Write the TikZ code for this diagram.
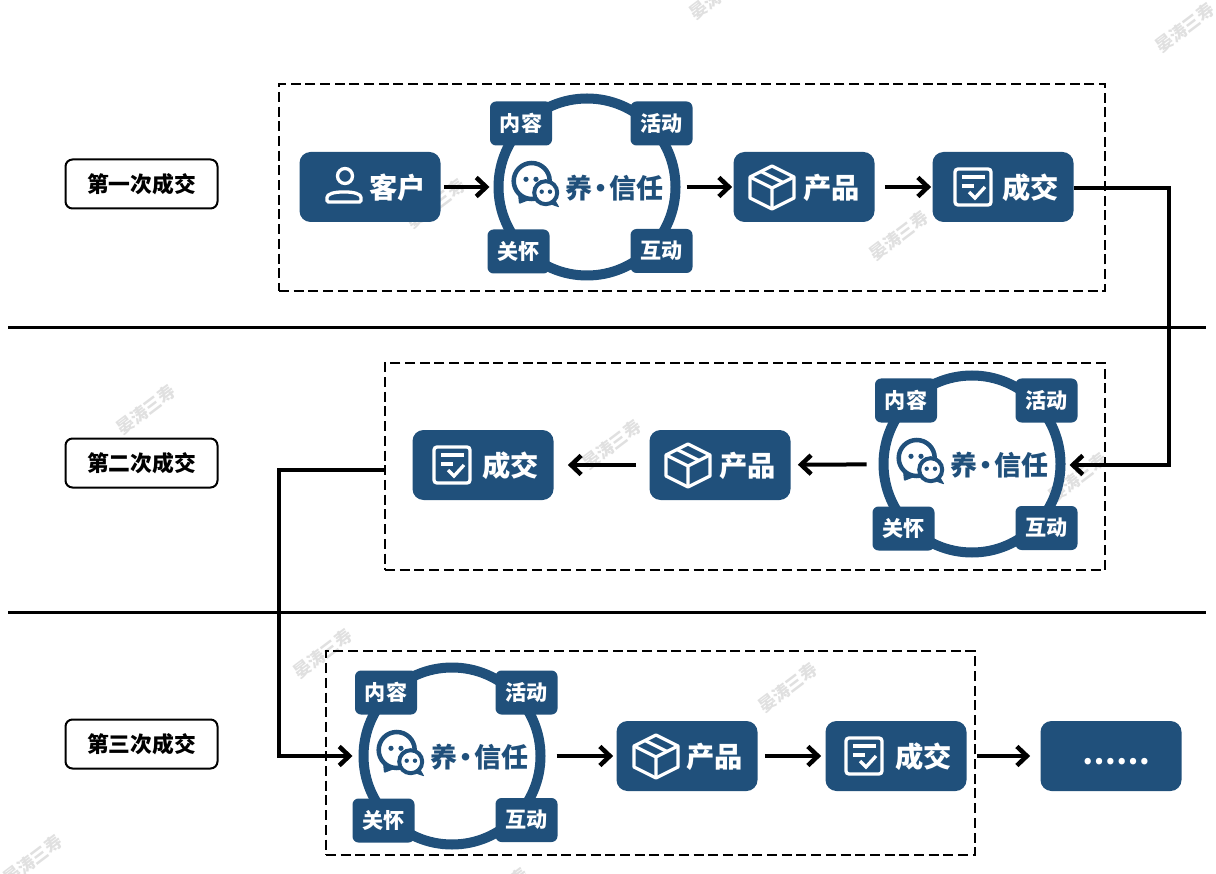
\documentclass[tikz,border=0pt]{standalone}
\usepackage{fontspec}
\setmainfont{Noto Sans CJK SC}
\usetikzlibrary{arrows.meta}
\definecolor{navy}{HTML}{20507B}
\definecolor{markgray}{HTML}{E0E0E0}
\newlength\px
\setlength\px{0.02cm}

\tikzset{
  usericon/.pic={
    \draw[iconline] (1,-11) circle (7.5);
    \draw[iconline,rounded corners=1.5\px] (-17,15) -- (17,15) -- (17,12) .. controls (17,7) and (10,5) .. (0,5) .. controls (-10,5) and (-17,7) .. (-17,12) -- cycle;
  },
  boxicon/.pic={
    \draw[iconline,line join=round] (0,-21) -- (22,-10) -- (22,11) -- (0,22) -- (-22,11) -- (-22,-10) -- cycle;
    \draw[iconline,line join=round] (-22,-10) -- (0,1) -- (22,-10) (0,1) -- (0,22);
    \draw[iconline] (-11,-15.5) -- (11,-4.5);
  },
  checkicon/.pic={
    \draw[iconline,rounded corners=3\px] (-18,-18) rectangle (18,18);
    \draw[iconline] (-11,-10) -- (12,-10) (-11,-1) -- (1,-1);
    \draw[iconline] (-4,5) -- (2,11) -- (12,0);
  }
}

% ring with the four tags and the chat icon
\newcommand{\trustring}[3]{
  \node (ring#1) at (#2,#3) [circle,draw=navy,line width=10\px,minimum size=177\px] {};
  \begin{scope}[shift={(#2,#3)}]
    \node (tagA#1) at (-66,-63.5) [tagbox] {内容};
    \node (tagB#1) at (74.5,-63.5) [tagbox] {活动};
    \node (tagC#1) at (-68.5,64.5) [tagbox] {关怀};
    \node (tagD#1) at (74.5,64) [tagbox] {互动};
    \node (word#1) at (27.5,1) {\fontsize{15.4}{18}\selectfont\bfseries\textcolor{navy}{养\kern-5\px ·\kern-5\px 信任}};
    \fill[navy,rounded corners=1\px] (-69,7) -- (-68,17) -- (-55,12) -- cycle;
    \draw[navy,line width=4.5\px] (-55.3,-6) circle (18);
    \fill[navy] (-61,-7.7) circle (2.6) (-51,-7.7) circle (2.6);
    \fill[navy,rounded corners=1\px] (-33,11) -- (-27.5,20.5) -- (-39,16.5) -- cycle;
    \draw[navy,line width=4\px,fill=white] (-41.3,5.7) circle (11.5);
    \fill[navy] (-45.3,4.7) circle (2.2) (-37,4.7) circle (2.2);
  \end{scope}
}
% box with an icon and a word
\newcommand{\flowbox}[6]{
  \node (#1) at (#2,#3) [flowbase] {};
  \path (#2+#5,#3) pic {#4};
  \node (#1word) at (#2+27.5,#3+1) {\fontsize{16.1}{18}\selectfont\bfseries\textcolor{white}{#6}};
}

\begin{document}
\begin{tikzpicture}[x=1\px,y=-1\px]
  \tikzstyle{iconline} = [draw=white, line width=3.3\px]
  \tikzstyle{tagbox} = [rectangle, rounded corners=6\px, fill=navy, text=white, inner sep=0pt, minimum width=62\px, minimum height=44\px, font=\fontsize{12}{14}\selectfont\bfseries]
  \tikzstyle{flowbase} = [rectangle, rounded corners=11\px, fill=navy, inner sep=0pt, minimum width=141\px, minimum height=70\px]
  \tikzstyle{roundbox} = [rectangle, rounded corners=7\px, draw=black, line width=2\px, inner sep=0pt, minimum width=152\px, minimum height=49\px, font=\fontsize{12.4}{14}\selectfont\bfseries]
  \tikzstyle{frame} = [rectangle, draw=black, line width=1.9\px, dash pattern=on 10\px off 4.7\px, inner sep=0pt]
  \tikzstyle{flow} = [draw=black, line width=4\px, -{Straight Barb[length=0.2cm,width=0.38cm,line width=0.09cm]}]
  \tikzstyle{wmark} = [text=markgray, rotate=37, font=\fontsize{9.8}{12}\selectfont\bfseries]

  \useasboundingbox (0,0) rectangle (1216,874);

  \foreach \mx/\my [count=\mi] in {719/-5,1185/28,436/204,899/236,146/410,612/445,1078/478,323/654,788/688,33/860,499/893}
    \node (wm\mi) at (\mx,\my) [wmark] {晏涛三寿};

  \coordinate (ruleAl) at (8,327.5);
  \coordinate (ruleAr) at (1206,327.5);
  \coordinate (ruleBl) at (8,612.5);
  \coordinate (ruleBr) at (1206,612.5);
  \draw[line width=3\px] (ruleAl) -- (ruleAr);
  \draw[line width=3\px] (ruleBl) -- (ruleBr);

  \node (stepA) at (141.5,184) [roundbox] {第一次成交};
  \node (stepB) at (141.5,463) [roundbox] {第二次成交};
  \node (stepC) at (141.5,744) [roundbox] {第三次成交};

  \node (frameA) at (692,187.5) [frame, minimum width=826\px, minimum height=207\px] {};
  \node (frameB) at (745,466.5) [frame, minimum width=720\px, minimum height=207\px] {};
  \node (frameC) at (650.5,753) [frame, minimum width=649\px, minimum height=204\px] {};

  \trustring{A}{587}{187}
  \trustring{B}{972}{464}
  \trustring{C}{452}{756}

  \flowbox{client}{370}{187}{usericon}{-26}{客户}
  \flowbox{prodA}{804}{187}{boxicon}{-32}{产品}
  \flowbox{dealA}{1003}{187}{checkicon}{-30}{成交}
  \flowbox{dealB}{483}{465}{checkicon}{-31}{成交}
  \flowbox{prodB}{720}{465}{boxicon}{-32}{产品}
  \flowbox{prodC}{687}{756}{boxicon}{-31}{产品}
  \flowbox{dealC}{896}{756}{checkicon}{-32}{成交}
  \node (more) at (1111,756) [flowbase] {};
  \node (moreword) at (1116,761.5) {\fontsize{17}{20}\selectfont\bfseries\textcolor{white}{……}};

  \coordinate (turnA) at (1169,465);
  \coordinate (turnB) at (279,756);

  \draw[flow,shorten <=3\px,shorten >=4\px] (client) -- (ringA);
  \draw[flow,shorten <=6\px,shorten >=1\px] (ringA) -- (prodA);
  \draw[flow,shorten <=10\px,shorten >=1\px] (prodA) -- (dealA);
  \draw[flow] ([yshift=-1.5\px]dealA.east) -| (turnA) -- ([xshift=4\px,yshift=-1\px]ringB.east);
  \draw[flow,shorten <=12\px,shorten >=7\px] (ringB) -- (prodB);
  \draw[flow,shorten <=13\px,shorten >=14\px] (prodB) -- (dealB);
  \draw[flow] ([yshift=-3.5\px]frameB.west) -| (turnB) -- ([xshift=-6\px]ringC.west);
  \draw[flow,shorten <=11\px,shorten >=3\px] (ringC) -- (prodC);
  \draw[flow,shorten <=7\px,shorten >=4\px] (prodC) -- (dealC);
  \draw[flow,shorten <=10\px,shorten >=10\px] (dealC) -- (more);
\end{tikzpicture}
\end{document}
